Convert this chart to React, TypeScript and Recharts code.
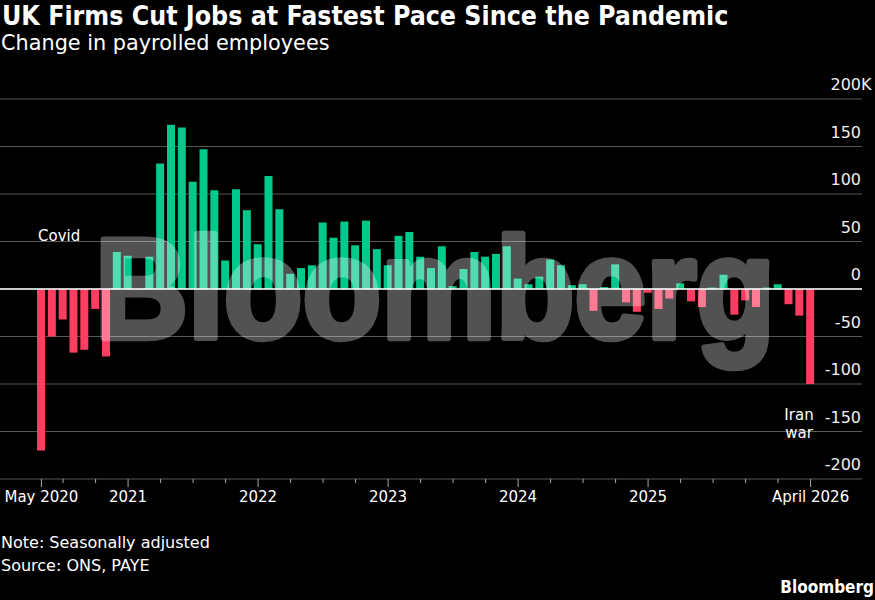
import React from 'react';
import { BarChart, Bar, XAxis, YAxis, CartesianGrid, ReferenceLine, Cell } from 'recharts';

// Change in payrolled employees, thousands, May 2020 .. April 2026 (monthly)
const payrollChange = [
    -170, -50, -32, -67, -64, -21, -71, 39,
    35, 0, 34, 132, 173, 170, 113, 147, 104, 30, 105, 83,
    47, 119, 84, 16, 22, 25, 70, 54, 71, 46, 72, 42,
    25, 56, 60, 34, 22, 45, 3, 21, 39, 34, 37, 45,
    11, 5, 13, 31, 25, 4, 5, -23, 2, 26, -14, -24,
    -4, -21, -10, 6, -13, -19, 1.5, 15, -27, -12, -19, 1.5,
    5, -16, -28, -100,
];

const FIRST_YEAR = 2020;
const FIRST_MONTH = 5;

const months = payrollChange.map((_, i) => {
    const m = FIRST_MONTH - 1 + i;
    const y = FIRST_YEAR + Math.floor(m / 12);
    return `${y}-${String((m % 12) + 1).padStart(2, '0')}`;
});

const tickLabels: Record<string, string> = {
    '2020-05': 'May 2020',
    '2021-01': '2021',
    '2022-01': '2022',
    '2023-01': '2023',
    '2024-01': '2024',
    '2025-01': '2025',
    '2026-04': 'April 2026',
};

const quarterMonths = ['01', '04', '07', '10'];
const xTicks = months.filter(m => tickLabels[m] || quarterMonths.includes(m.slice(5)));
const yTicks = [-200, -150, -100, -50, 0, 50, 100, 150, 200];

const data = months.map((month, i) => ({ month, value: payrollChange[i] }));

const GREEN = '#00c98b';
const RED = '#ff3d60';
const GRID = '#575757';
const FONT = '"DejaVu Sans", sans-serif';
const COND = '"DejaVu Sans Condensed", "DejaVu Sans", sans-serif';
const PLOT_TOP = 99;
const PLOT_BOTTOM = 479;
const PLOT_RIGHT = 862;

const XTick = (props: any) => {
    const { x, payload } = props;
    const label = tickLabels[payload.value];
    return (
        <g>
            <line x1={x} x2={x} y1={PLOT_BOTTOM} y2={PLOT_BOTTOM + (label ? 8 : 4)} stroke="#aaa" strokeWidth={1} />
            {label && (
                <text x={x} y={PLOT_BOTTOM + 23} textAnchor="middle" fill="#fff" fontSize={15} fontFamily={FONT}>
                    {label}
                </text>
            )}
        </g>
    );
};

const YTick = (props: any) => {
    const { y, payload } = props;
    const v = payload.value;
    return (
        <g>
            <text x={PLOT_RIGHT - 1} y={y - 9} textAnchor="end" fill="#eee" fontSize={16} fontFamily={FONT}>
                {v}
            </text>
            {v === 200 && (
                <text x={PLOT_RIGHT - 1} y={y - 9} textAnchor="start" fill="#eee" fontSize={16} fontFamily={FONT}>
                    K
                </text>
            )}
        </g>
    );
};

export default function App() {
    return (
        <div style={{ position: 'absolute', left: 0, top: 0, width: 875, height: 600, background: '#000', overflow: 'hidden' }}>
            <BarChart
                width={875}
                height={600}
                data={data}
                margin={{ top: PLOT_TOP, right: 0, left: 0, bottom: 600 - PLOT_BOTTOM - 30 }}
            >
                <CartesianGrid horizontal vertical={false} stroke={GRID} strokeWidth={1} />
                <XAxis
                    dataKey="month"
                    ticks={xTicks}
                    interval={0}
                    height={30}
                    padding={{ left: 36, right: 46 }}
                    axisLine={false}
                    tickLine={false}
                    tick={<XTick />}
                />
                <YAxis
                    orientation="right"
                    domain={[-200, 200]}
                    ticks={yTicks}
                    width={13}
                    axisLine={false}
                    tickLine={false}
                    tick={<YTick />}
                    allowDataOverflow
                />
                <Bar dataKey="value" barSize={8} isAnimationActive={false}>
                    {data.map(d => (
                        <Cell key={d.month} fill={d.value < 0 ? RED : GREEN} />
                    ))}
                </Bar>
                <ReferenceLine y={0} stroke="#fff" strokeWidth={1.5} />
            </BarChart>
            <svg
                width={875}
                height={600}
                style={{ position: 'absolute', left: 0, top: 0, pointerEvents: 'none' }}
            >
                {/* watermark */}
                <g opacity={0.32}>
                    <text
                        transform="translate(95,338) scale(1,1.1)"
                        fontSize={130}
                        fontWeight="bold"
                        fontFamily='"Liberation Sans", Arial, sans-serif'
                        textLength={680}
                        lengthAdjust="spacingAndGlyphs"
                        fill="#fff"
                        stroke="#fff"
                        strokeWidth={6}
                        strokeLinejoin="round"
                    >
                        Bloomberg
                    </text>
                </g>
                <text x={2} y={25} fill="#fff" fontSize={26.5} fontWeight="bold" fontFamily={COND}>
                    UK Firms Cut Jobs at Fastest Pace Since the Pandemic
                </text>
                <text x={1} y={50} fill="#fff" fontSize={20.8} fontFamily={FONT}>
                    Change in payrolled employees
                </text>
                <text x={38} y={240.5} fill="#fff" fontSize={15} fontFamily={FONT}>Covid</text>
                <text x={799} y={419.5} fill="#fff" fontSize={15} fontFamily={FONT} textAnchor="middle">Iran</text>
                <text x={799} y={437.5} fill="#fff" fontSize={15} fontFamily={FONT} textAnchor="middle">war</text>
                <text x={1} y={547.5} fill="#fff" fontSize={16} fontFamily={FONT}>Note: Seasonally adjusted</text>
                <text x={1} y={571} fill="#fff" fontSize={16} fontFamily={FONT}>Source: ONS, PAYE</text>
                <text x={874} y={593} fill="#fff" fontSize={17} fontWeight="bold" textAnchor="end" fontFamily={COND}>
                    Bloomberg
                </text>
            </svg>
        </div>
    );
}
